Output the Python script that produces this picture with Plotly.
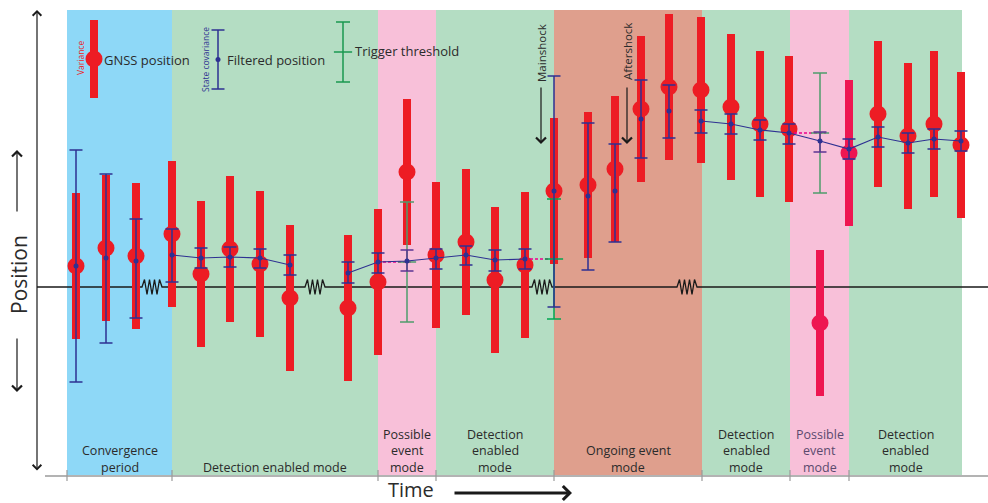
import plotly.graph_objects as go

# ---------------- data (position units, baseline = 0) ----------------
t = [76, 106, 136, 172, 201, 230, 260, 290, 348, 378, 407, 436, 466, 495, 525,
     554, 588, 615, 641, 669, 701, 731, 760, 789, 820, 849, 878, 908, 934, 961]
gnss = [21, 39, 31, 53, 13, 38, 23, -11, -21, 5, 115, 32, 45, 7, 22,
        96, 102, 118, 178, 200, 197, 180, 163, 158, -36, 134, 173, 151, 163, 142]
gnss_var = [73, 73, 73, 73, 73, 73, 73, 73, 73, 73, 73, 73, 73, 73, 73,
            73, 73, 73, 73, 73, 73, 73, 73, 73, 73, 73, 73, 73, 73, 73]
filt = [21, 29, 26, 32, 29, 30, 29, 22, 14, 25, 26, 29, 32, 27, 28,
        96, 91, 96, 168, 176, 166, 163, 157, 154, 146, 138, 150, 144, 148, 146]
filt_up = [116, 84, 42, 26, 10, 10, 9, 10, 11, 9, 11, 9, 9, 10, 10,
           115, 73, 47, 39, 26, 11, 10, 10, 9, 9, 10, 10, 10, 10, 10]
filt_dn = [116, 85, 57, 27, 10, 10, 10, 10, 10, 11, 10, 11, 10, 11, 10,
           116, 74, 51, 39, 27, 12, 10, 10, 11, 11, 10, 10, 10, 10, 10]
seg = [0, 0, 0, 1, 1, 1, 1, 1, 2, 2, 2, 2, 2, 2, 2,
       0, 0, 0, 0, 0, 3, 3, 3, 3, 3, 3, 3, 3, 3, 3]
trig_idx = [10, 15, 24]
trig_half = [60, 60, 60]
springs = [152, 315, 542, 687]

bounds = [67, 172, 378, 436, 554, 702, 790, 849, 962]
modes = ["conv", "det", "poss", "det", "ongoing", "det", "poss", "det"]
mode_labels = {
    "conv": ["Convergence", "period"],
    "det": ["Detection", "enabled", "mode"],
    "poss": ["Possible", "event", "mode"],
    "ongoing": ["Ongoing event", "mode"],
}
wide_label = ["Detection enabled mode"]

# ---------------- styles ----------------
mode_fill = {"conv": "#8ed8f7", "det": "#b4ddc3", "poss": "#f8c0d9", "ongoing": "#df9f8d"}
RED = "#ed1c24"
CRIMSON = "#ee1651"
BLUE = "#2e3192"
PURPLE = "#5b3592"
GREEN = "#00a651"
GREEN_M = "#4f9c6c"
PINK = "#ec008c"
TXT = "#2b2b2b"
FONT = "Open Sans"

Y0 = 287          # baseline row of the 503 px tall canvas
def Y(py):
    return Y0 - py

fig = go.Figure()

# ---------------- background regions ----------------
shapes = []
for i, m in enumerate(modes):
    shapes.append(dict(type="rect", xref="x", yref="y", x0=bounds[i], x1=bounds[i + 1],
                       y0=Y(475), y1=Y(10), fillcolor=mode_fill[m], line=dict(width=0),
                       layer="below"))
# time axis line and ticks
shapes.append(dict(type="line", xref="x", yref="y", x0=45, x1=988, y0=Y(476), y1=Y(476),
                   line=dict(color="#9a9a9a", width=1.3)))
for b in bounds[:-1]:
    shapes.append(dict(type="line", xref="x", yref="y", x0=b, x1=b, y0=Y(470), y1=Y(481),
                       line=dict(color="#9a9a9a", width=1.2)))

# ---------------- baseline with springs ----------------
bx, by = [37], [0]
for c in springs:
    bx.append(c - 10); by.append(0)
    n = 7
    for k in range(1, n + 1):
        bx.append(c - 10 + k * 20 / (n + 1))
        by.append(7.5 if k % 2 else -7.5)
    bx.append(c + 10); by.append(0)
bx.append(988); by.append(0)
fig.add_trace(go.Scatter(x=bx, y=by, mode="lines", line=dict(color="#1a1a1a", width=1.3),
                         hoverinfo="skip"))

# ---------------- GNSS positions ----------------
for i in range(len(t)):
    col = CRIMSON if i in (24, 25) else RED
    fig.add_trace(go.Scatter(
        x=[t[i]], y=[gnss[i]], mode="markers",
        marker=dict(size=17, color=col),
        error_y=dict(type="data", array=[gnss_var[i]], symmetric=True,
                     thickness=8, width=0, color=col)))

# ---------------- predicted (dashed) ----------------
for i in trig_idx:
    fig.add_trace(go.Scatter(x=[t[i - 1], t[i] + 6], y=[filt[i - 1], filt[i - 1]],
                             mode="lines", line=dict(color=PINK, width=1.5, dash="3px,2px")))

# ---------------- trigger thresholds ----------------
for k, i in enumerate(trig_idx):
    gc = GREEN if i == 15 else GREEN_M
    fig.add_trace(go.Scatter(
        x=[t[i]], y=[filt[i - 1]], mode="markers",
        marker=dict(symbol="line-ew", size=13, line=dict(color=gc, width=1.5)),
        error_y=dict(type="data", array=[trig_half[k]], symmetric=True,
                     thickness=1.5, width=7, color=gc)))

# ---------------- filtered line ----------------
for s in sorted(set(seg) - {0}):
    xs = [t[i] for i in range(len(t)) if seg[i] == s]
    ys = [filt[i] for i in range(len(t)) if seg[i] == s]
    fig.add_trace(go.Scatter(x=xs, y=ys, mode="lines", line=dict(color=BLUE, width=1.2)))

# ---------------- filtered positions ----------------
for i in range(len(t)):
    bc = PURPLE if i in (10, 24) else BLUE
    fig.add_trace(go.Scatter(
        x=[t[i]], y=[filt[i]], mode="markers",
        marker=dict(size=5, color=BLUE),
        error_y=dict(type="data", array=[filt_up[i]], arrayminus=[filt_dn[i]],
                     symmetric=False, thickness=1.5, width=6.5, color=bc)))

# ---------------- legend samples ----------------
fig.add_trace(go.Scatter(x=[94], y=[Y(59)], mode="markers", marker=dict(size=17, color=RED),
                         error_y=dict(type="data", array=[39], thickness=8, width=0, color=RED)))
fig.add_trace(go.Scatter(x=[218], y=[Y(59.5)], mode="markers", marker=dict(size=5, color=BLUE),
                         error_y=dict(type="data", array=[29.5], thickness=1.5, width=6.5, color=BLUE)))
fig.add_trace(go.Scatter(x=[343], y=[Y(52)], mode="markers",
                         marker=dict(symbol="line-ew", size=13, line=dict(color="#1a9850", width=1.5)),
                         error_y=dict(type="data", array=[30], thickness=1.5, width=7, color="#1a9850")))

ann = []
def txt(x, py, s, size=12.5, color=TXT, angle=0, xanchor="center"):
    ann.append(dict(x=x, y=Y(py), xref="x", yref="y", text=s, showarrow=False,
                    font=dict(family=FONT, size=size, color=color), textangle=angle,
                    xanchor=xanchor, yanchor="middle", borderpad=0))

txt(103, 60, "GNSS position", 13, xanchor="left")
txt(80, 58, "Variance", 8.5, color=RED, angle=-90)
txt(226, 60, "Filtered position", 13, xanchor="left")
txt(205, 60, "State covariance", 8.5, color=BLUE, angle=-90)
txt(354, 51, "Trigger threshold", 13, xanchor="left")

# mode labels
for i, m in enumerate(modes):
    cx = (bounds[i] + bounds[i + 1]) / 2
    lines = wide_label if (m == "det" and i == 1) else mode_labels[m]
    col = "#5b4a6e" if (m == "poss" and i == 6) else TXT
    n = len(lines)
    for j, ln in enumerate(lines):
        txt(cx, 467 - (n - 1 - j) * 16.5, ln, 12.5, color=col)

# mainshock / aftershock
txt(541, 53, "Mainshock", 11.5, angle=-90)
txt(627, 52, "Aftershock", 11.5, angle=-90)

def arrow(x0, py0, x1, py1, width=1.2, head=5, size=1.0, side="end"):
    ann.append(dict(x=x1, y=Y(py1), ax=x0, ay=Y(py0), xref="x", yref="y", axref="x", ayref="y",
                    text="", showarrow=True, arrowhead=head, arrowsize=size, arrowwidth=width,
                    arrowcolor="#1a1a1a", arrowside=side, standoff=0, startstandoff=0,
                    startarrowhead=head, startarrowsize=size))

arrow(541, 86, 541, 144, 1.2, 4, 1.6)
arrow(627, 86, 627, 144, 1.2, 4, 1.6)
# axes arrows
arrow(37, 472, 37, 10, 1.2, 4, 1.4, side="end+start")
arrow(453, 493, 572, 493, 3, 4, 0.9)
arrow(17, 213, 17, 150, 1.2, 4, 1.6)
arrow(17, 337, 17, 392, 1.2, 4, 1.6)

txt(411, 489, "Time", 20)
txt(19, 275, "Position", 21, angle=-90)

fig.update_layout(
    width=988, height=503, margin=dict(l=0, r=0, t=0, b=0),
    paper_bgcolor="white", plot_bgcolor="white", showlegend=False,
    xaxis=dict(range=[0, 988], visible=False, fixedrange=True),
    yaxis=dict(range=[Y(503), Y(0)], visible=False, fixedrange=True),
    shapes=shapes, annotations=ann,
)
fig.write_html("out.html")
